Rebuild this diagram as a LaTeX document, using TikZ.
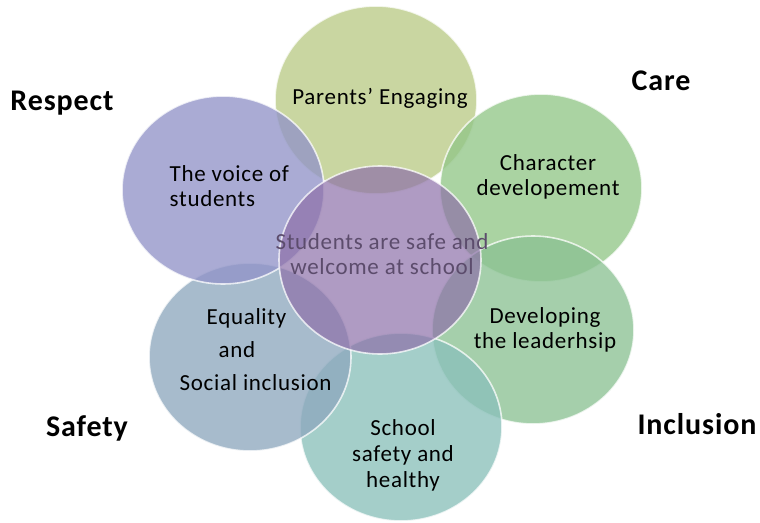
\documentclass[tikz,border=0pt]{standalone}
\usepackage{fontspec}
\setmainfont{Carlito}
\usetikzlibrary{shapes.geometric}

\definecolor{parentsc}{RGB}{186,203,135}
\definecolor{characterc}{RGB}{146,198,136}
\definecolor{leadc}{RGB}{140,194,148}
\definecolor{safetyc}{RGB}{138,192,186}
\definecolor{equalc}{RGB}{142,168,190}
\definecolor{voicec}{RGB}{146,148,200}
\definecolor{centerc}{RGB}{141,112,169}
\definecolor{centertext}{RGB}{92,76,108}

\tikzset{every picture/.style={line width=0.75pt},
  bubble/.style={ellipse,minimum width=202pt,minimum height=188pt,inner sep=0pt,
    draw=white,draw opacity=0.75,line width=1.6pt,fill opacity=0.78},
  bubtext/.style={font=\fontsize{23}{25}\selectfont\addfontfeatures{LetterSpace=3},align=center,text=black},
  cornerlbl/.style={font=\fontsize{30}{32}\selectfont\bfseries\addfontfeatures{LetterSpace=3},text=black}}

\begin{document}
\begin{tikzpicture}[x=1pt,y=-1pt]
			\useasboundingbox (0,0) rectangle (760,522);
			% circles
			\node [bubble,fill=parentsc] (parents) at (376,100) {};
			\node [bubble,fill=characterc] (character) at (541,188) {};
			\node [bubble,fill=leadc] (leadership) at (533,330) {};
			\node [bubble,fill=safetyc] (safety) at (401,427) {};
			\node [bubble,fill=equalc] (equality) at (250,357) {};
			\node [bubble,fill=voicec] (voice) at (223,190) {};
			\node [bubble,fill=centerc,fill opacity=0.7] (center) at (380,260) {};
			% texts
			\node [bubtext] (parentstxt) at (380,98) {Parents' Engaging};
			\node [bubtext] (charactertxt) at (548,177) {Character\\developement};
			\node [bubtext] (leadtxt) at (545,330) {Developing\\the leaderhsip};
			\node [bubtext,font=\fontsize{23}{26}\selectfont\addfontfeatures{LetterSpace=3}] (safetytxt) at (403,455) {School\\safety and\\healthy};
			\node [bubtext,align=left,anchor=west,font=\fontsize{23}{33}\selectfont\addfontfeatures{LetterSpace=3}] (equaltxt) at (176,350) {\hspace{27pt}Equality\\\hspace{39pt}and\\Social inclusion};
			\node [bubtext,align=left,anchor=west] (voicetxt) at (166,186) {The voice of\\students};
			\node [bubtext,text=centertext] (centertxt) at (382,254) {Students are safe and\\welcome at school};
			% corner labels
			\node [cornerlbl] (respect) at (62,103) {Respect};
			\node [cornerlbl] (care) at (661,81) {Care};
			\node [cornerlbl] (safetylbl) at (87,428) {Safety};
			\node [cornerlbl] (inclusion) at (697,424) {Inclusion};
		\end{tikzpicture}
\end{document}
